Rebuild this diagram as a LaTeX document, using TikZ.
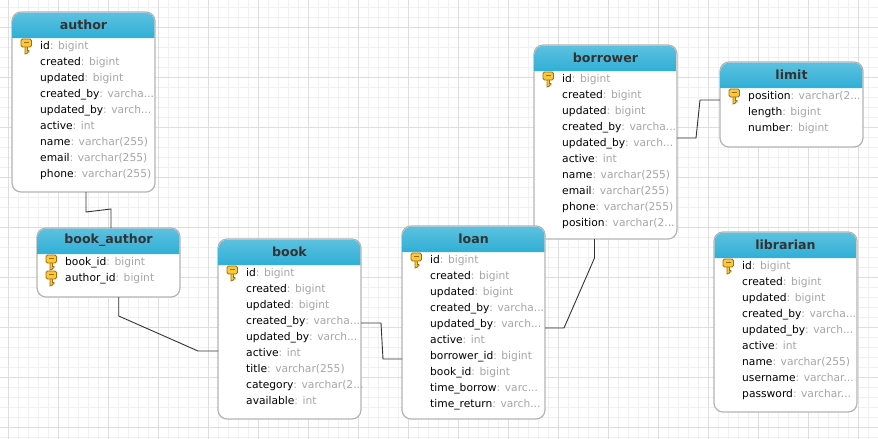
\documentclass[tikz,border=0pt]{standalone}
\usepackage{fontspec}
\setmainfont{DejaVu Sans}
\definecolor{gridminor}{HTML}{F0F0F0}
\definecolor{gridmajor}{HTML}{DEDEDE}
\definecolor{headtop}{HTML}{5CC1DF}
\definecolor{headbottom}{HTML}{30AFD6}
\definecolor{boxline}{HTML}{B4B4B4}
\definecolor{typegray}{HTML}{A6A6A6}
\definecolor{keyfill}{HTML}{F8C93A}
\definecolor{keyline}{HTML}{A86A08}
\newcommand{\rowcut}{...}
\tikzset{
    tablebox/.style={draw=boxline, line width=1.2pt, fill=white, rounded corners=9pt,
        anchor=north west, minimum width=143pt, inner sep=0pt, outer sep=0pt},
    tabletitle/.style={font=\bfseries\fontsize{12.6}{15}\selectfont, text=black!80, inner sep=0pt},
    rowtext/.style={font=\fontsize{10.7}{12}\selectfont, anchor=base west, inner sep=0pt},
    link/.style={draw=black!80, line width=0.9pt},
    pics/dbkey/.style={code={
        \fill[keyfill, draw=keyline, line width=0.8pt] (-3,-1) -- (1.5,-1) -- (1.5,3.5) -- (3,3.5) -- (3,5) -- (1.5,5)
            -- (1.5,6) -- (-1,7) -- (-1,-1) -- cycle;
        \fill[keyfill, draw=keyline, line width=0.8pt, rounded corners=1.5pt] (-5,-8) rectangle (5.5,0);
        \fill[keyline] (-2,-5.5) rectangle (2.5,-4);
    }}
}
% one table: name, x, y, height, title, number of keys, rows
\newcommand{\dbtable}[7]{
    \node[tablebox, minimum height=#4] (#1) at (#2,#3) {};
    \shade[top color=headtop, bottom color=headbottom, rounded corners=9pt]
        (#2+0.6,#3+26) -- (#2+0.6,#3+0.6) -- (#2+142.4,#3+0.6) [sharp corners] -- (#2+142.4,#3+26) -- cycle;
    \node[tabletitle] (#1-title) at (#2+71.5,#3+12.5) {#5};
    \foreach \rowname/\rowtype [count=\i] in {#7} {
        \node[rowtext] (#1-\i) at (#2+28,#3+26+16*\i-4.5) {\rowname\textcolor{typegray}{: \rowtype}};
        \ifnum\i>#6\else
            \pic at (#2+14,#3+26+16*\i-7) {dbkey};
        \fi
    }
}
\begin{document}
\begin{tikzpicture}[x=1pt, y=-1pt]
    \useasboundingbox (0,0) rectangle (878,439);
    % Background grid
    \foreach \gx in {8,18,...,878} {\draw[gridminor, line width=1pt] (\gx+0.5,0) -- (\gx+0.5,439);}
    \foreach \gy in {7,17,...,439} {\draw[gridminor, line width=1pt] (0,\gy+0.5) -- (878,\gy+0.5);}
    \foreach \gx in {8,58,...,878} {\draw[gridmajor, line width=1pt] (\gx+0.5,0) -- (\gx+0.5,439);}
    \foreach \gy in {27,77,...,439} {\draw[gridmajor, line width=1pt] (0,\gy+0.5) -- (878,\gy+0.5);}
    % Tables
    \dbtable{author}{12}{12}{180pt}{author}{1}{id/bigint, created/bigint, updated/bigint,
        created\_by/varcha\rowcut, updated\_by/varch\rowcut, active/int, name/varchar(255),
        email/varchar(255), phone/varchar(255)}
    \dbtable{bookauthor}{37}{228}{69pt}{book\_author}{2}{book\_id/bigint, author\_id/bigint}
    \dbtable{book}{218}{239}{180pt}{book}{1}{id/bigint, created/bigint, updated/bigint,
        created\_by/varcha\rowcut, updated\_by/varch\rowcut, active/int, title/varchar(255),
        category/varchar(2\rowcut, available/int}
    \dbtable{borrower}{534}{45}{194pt}{borrower}{1}{id/bigint, created/bigint, updated/bigint,
        created\_by/varcha\rowcut, updated\_by/varch\rowcut, active/int, name/varchar(255),
        email/varchar(255), phone/varchar(255), position/varchar(2\rowcut}
    \dbtable{loan}{402}{226}{193pt}{loan}{1}{id/bigint, created/bigint, updated/bigint,
        created\_by/varcha\rowcut, updated\_by/varch\rowcut, active/int, borrower\_id/bigint,
        book\_id/bigint, time\_borrow/varc\rowcut, time\_return/varch\rowcut}
    \dbtable{limit}{720}{62}{85pt}{limit}{1}{position/varchar(2\rowcut, length/bigint, number/bigint}
    \dbtable{librarian}{714}{232}{180pt}{librarian}{1}{id/bigint, created/bigint, updated/bigint,
        created\_by/varcha\rowcut, updated\_by/varch\rowcut, active/int, name/varchar(255),
        username/varchar\rowcut, password/varchar\rowcut}
    % Connectors
    \coordinate (ab1) at (86,212);
    \coordinate (ab2) at (111,209);
    \draw[link] (author.south -| ab1) -- (ab1) -- (ab2) -- (bookauthor.north -| ab2);
    \coordinate (bb1) at (118.7,316);
    \coordinate (bb2) at (198,351);
    \draw[link] (bookauthor.south -| bb1) -- (bb1) -- (bb2) -- (book.west |- bb2);
    \coordinate (bl1) at (381,323);
    \coordinate (bl2) at (383,359);
    \draw[link] (book.east |- bl1) -- (bl1) -- (bl2) -- (loan.west |- bl2);
    \coordinate (lb1) at (564,328);
    \coordinate (lb2) at (594.5,258);
    \draw[link] (loan.east |- lb1) -- (lb1) -- (lb2) -- (borrower.south -| lb2);
    \coordinate (bm1) at (696,138);
    \coordinate (bm2) at (700,100);
    \draw[link] (borrower.east |- bm1) -- (bm1) -- (bm2) -- (limit.west |- bm2);
\end{tikzpicture}
\end{document}
